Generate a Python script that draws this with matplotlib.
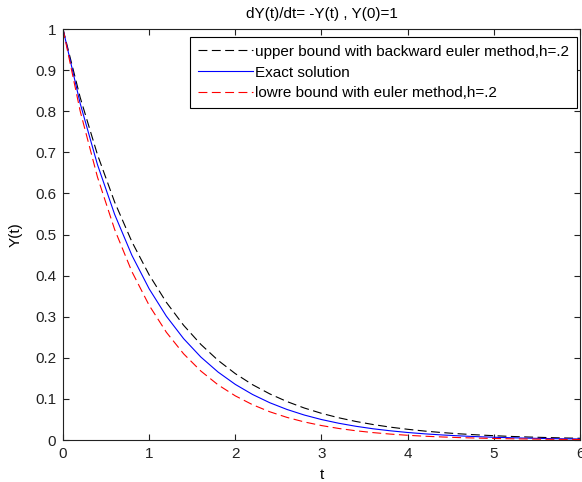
import matplotlib
matplotlib.use('Agg')
import matplotlib.pyplot as plt

plt.rcParams['font.family'] = ['Liberation Sans', 'DejaVu Sans']
plt.rcParams['font.size'] = 11

# time grid, h = .2
t = [0.0, 0.2, 0.4, 0.6, 0.8, 1.0, 1.2, 1.4, 1.6, 1.8, 2.0, 2.2, 2.4, 2.6, 2.8, 3.0,
     3.2, 3.4, 3.6, 3.8, 4.0, 4.2, 4.4, 4.6, 4.8, 5.0, 5.2, 5.4, 5.6, 5.8, 6.0]

# backward euler (upper bound)
y_back = [1.0, 0.8333, 0.6944, 0.5787, 0.4823, 0.4019, 0.3349, 0.2791, 0.2326, 0.1938,
          0.1615, 0.1346, 0.1122, 0.0935, 0.0779, 0.0649, 0.0541, 0.0451, 0.0376, 0.0313,
          0.0261, 0.0217, 0.0181, 0.0151, 0.0126, 0.0105, 0.0087, 0.0073, 0.0061, 0.0051,
          0.0042]

# exact solution
y_exact = [1.0, 0.8187, 0.6703, 0.5488, 0.4493, 0.3679, 0.3012, 0.2466, 0.2019, 0.1653,
           0.1353, 0.1108, 0.0907, 0.0743, 0.0608, 0.0498, 0.0408, 0.0334, 0.0273, 0.0224,
           0.0183, 0.0150, 0.0123, 0.0101, 0.0082, 0.0067, 0.0055, 0.0045, 0.0037, 0.0030,
           0.0025]

# forward euler (lower bound)
y_euler = [1.0, 0.8, 0.64, 0.512, 0.4096, 0.3277, 0.2621, 0.2097, 0.1678, 0.1342,
           0.1074, 0.0859, 0.0687, 0.0550, 0.0440, 0.0352, 0.0281, 0.0225, 0.0180, 0.0144,
           0.0115, 0.0092, 0.0074, 0.0059, 0.0047, 0.0038, 0.0030, 0.0024, 0.0019, 0.0015,
           0.0012]

xticks = [0, 1, 2, 3, 4, 5, 6]
yticks = [0, 0.1, 0.2, 0.3, 0.4, 0.5, 0.6, 0.7, 0.8, 0.9, 1]
yticklabels = ['0', '0.1', '0.2', '0.3', '0.4', '0.5', '0.6', '0.7', '0.8', '0.9', '1']

fig = plt.figure(figsize=(5.82, 4.82), dpi=100)
ax = fig.add_axes([0.1082, 0.0871, 0.8884, 0.8527])

ax.plot(t, y_back, '--', color='black', lw=0.8, dashes=(8, 4),
        label='upper bound with backward euler method,h=.2')
ax.plot(t, y_exact, '-', color='#0000ff', lw=0.8, label='Exact solution')
ax.plot(t, y_euler, '--', color='#ff0000', lw=0.8, dashes=(8, 4),
        label='lowre bound with euler method,h=.2')

ax.set_xlim(0, 6)
ax.set_ylim(0, 1)
ax.set_xticks(xticks)
ax.set_yticks(yticks)
ax.set_yticklabels(yticklabels)
ax.tick_params(direction='in', top=True, right=True, length=4, width=0.8,
               labelsize=11, pad=5, colors='#222222')
for s in ax.spines.values():
    s.set_linewidth(0.8)
    s.set_color('#222222')

ax.set_title('dY(t)/dt= -Y(t) , Y(0)=1', fontsize=11, pad=8)
ax.set_xlabel('t', labelpad=5)
ax.set_ylabel('Y(t)', labelpad=9)

leg = ax.legend(loc='upper right', bbox_to_anchor=(577 / 582, 1 - 37 / 482),
                bbox_transform=fig.transFigure, borderaxespad=0,
                fancybox=False, edgecolor='black', framealpha=1,
                handlelength=3.6, handletextpad=0.15, labelspacing=0.45,
                borderpad=0.5, fontsize=11)
leg.get_frame().set_linewidth(0.8)

fig.savefig('out.png', dpi=100)
